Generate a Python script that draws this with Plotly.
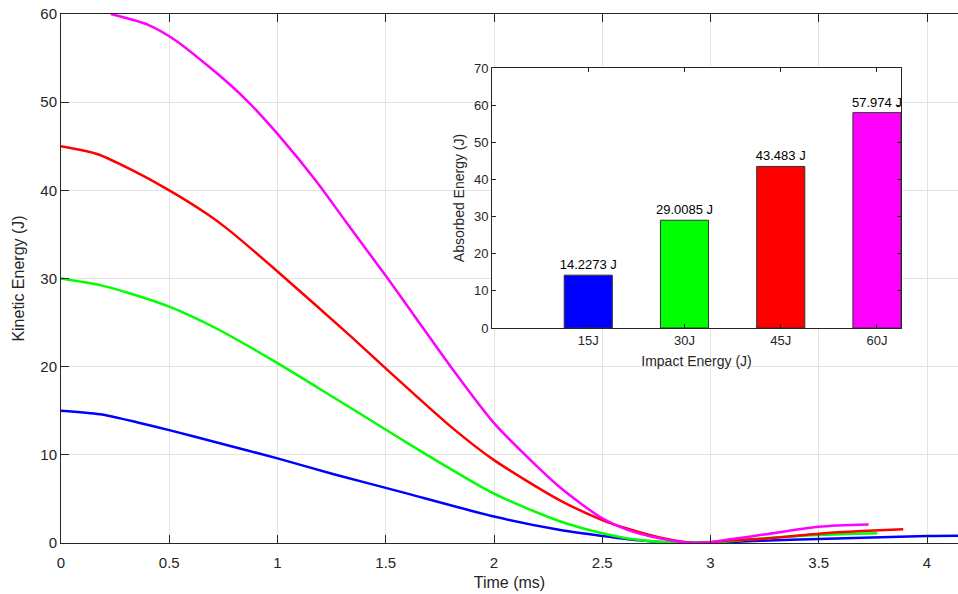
import plotly.graph_objects as go

# ---- main chart data: kinetic energy vs time ----
t_15 = [0, 0.18, 0.35, 0.5, 0.72, 1.0, 1.26, 1.57, 2.0, 2.3, 2.5, 2.61, 2.77, 2.93, 3.23, 3.5, 4.0, 4.15]
ke_15 = [15, 14.6, 13.7, 12.8, 11.4, 9.6, 7.8, 5.8, 3.0, 1.5, 0.8, 0.45, 0.12, 0.02, 0.25, 0.45, 0.8, 0.83]

t_30 = [0, 0.18, 0.32, 0.5, 0.72, 1.0, 1.26, 1.57, 1.69, 2.0, 2.3, 2.5, 2.61, 2.77, 2.93, 3.0, 3.23, 3.5, 3.77]
ke_30 = [30, 29.25, 28.3, 26.8, 24.3, 20.4, 16.5, 11.8, 10.0, 5.6, 2.5, 1.1, 0.55, 0.12, 0.02, 0.05, 0.5, 0.9, 1.1]

t_45 = [0, 0.17, 0.32, 0.5, 0.67, 0.77, 1.0, 1.34, 1.5, 1.81, 2.0, 2.3, 2.5, 2.61, 2.77, 2.93, 3.1, 3.23, 3.5, 3.7, 3.89]
ke_45 = [45, 44.1, 42.4, 40.0, 37.4, 35.6, 30.8, 23.4, 19.8, 13.0, 9.4, 4.9, 2.6, 1.67, 0.6, 0.0, 0.3, 0.45, 1.05, 1.35, 1.55]

t_60 = [0.23, 0.4, 0.53, 0.65, 0.78, 0.87, 1.0, 1.18, 1.32, 1.5, 1.64, 1.8, 2.0, 2.3, 2.5, 2.61, 2.77, 2.92, 3.0, 3.1, 3.23, 3.5, 3.73]
ke_60 = [60, 58.8, 57.0, 54.7, 52.0, 49.9, 46.4, 41.0, 36.3, 30.3, 25.5, 20.0, 13.6, 6.4, 2.8, 1.55, 0.5, 0.0, 0.1, 0.45, 0.9, 1.85, 2.1]

# ---- inset data: absorbed energy ----
impact_labels = ["15J", "30J", "45J", "60J"]
absorbed = [14.2273, 29.0085, 43.483, 57.974]

colors = ["#0000FF", "#00FF00", "#FF0000", "#FF00FF"]
series = [(t_15, ke_15), (t_30, ke_30), (t_45, ke_45), (t_60, ke_60)]

inset_xrange = [0, 4.25]
inset_yrange = [0, 70]

TXT = "#262626"
GRID = "#e3e3e3"
FONT = "Liberation Sans, Arial, sans-serif"

fig = go.Figure()
for (tx, ky), c in zip(series, colors):
    fig.add_trace(go.Scatter(x=tx, y=ky, mode="lines",
                             line=dict(color=c, width=2.5, shape="spline", smoothing=0.7),
                             showlegend=False, hoverinfo="skip", xaxis="x", yaxis="y"))

# white background for the inset axes (hides main grid behind it)
fig.add_trace(go.Bar(x=[sum(inset_xrange) / 2], y=[inset_yrange[1]],
                     width=inset_xrange[1] - inset_xrange[0],
                     marker=dict(color="white", line=dict(width=0)),
                     showlegend=False, hoverinfo="skip", xaxis="x2", yaxis="y2"))

pos = list(range(1, len(absorbed) + 1))
fig.add_trace(go.Bar(x=pos, y=absorbed, width=0.5,
                     marker=dict(color=colors, line=dict(color="#333333", width=1)),
                     text=[f"{v:g} J" for v in absorbed], textposition="outside",
                     constraintext="none",
                     textfont=dict(size=13, color="black", family=FONT),
                     cliponaxis=True, showlegend=False, hoverinfo="skip",
                     xaxis="x2", yaxis="y2"))

fig.update_layout(
    width=958, height=594,
    margin=dict(l=61, r=0, t=14, b=51, autoexpand=False),
    barmode="overlay",
    paper_bgcolor="white", plot_bgcolor="white",
    font=dict(family=FONT, color=TXT),
    xaxis=dict(domain=[0, 1], range=[0, 4.143], dtick=0.5, automargin=False,
               showgrid=True, gridcolor=GRID, zeroline=False,
               showline=True, linecolor=TXT, linewidth=1, mirror="ticks",
               ticks="inside", ticklen=8, tickcolor=TXT, ticklabelstandoff=6,
               tickfont=dict(size=15, color=TXT),
               title=dict(text="Time (ms)", font=dict(size=16, color=TXT), standoff=6)),
    yaxis=dict(domain=[0, 1], range=[0, 60], dtick=10, automargin=False,
               showgrid=True, gridcolor=GRID, zeroline=False,
               showline=True, linecolor=TXT, linewidth=1,
               ticks="inside", ticklen=8, tickcolor=TXT, ticklabeloverflow="allow",
               tickfont=dict(size=15, color=TXT),
               title=dict(text="Kinetic Energy (J)", font=dict(size=16, color=TXT), standoff=11)),
    xaxis2=dict(domain=[0.4805, 0.9365], anchor="y2", range=inset_xrange, automargin=False,
                tickvals=pos, ticktext=impact_labels,
                showgrid=False, zeroline=False,
                showline=True, linecolor=TXT, linewidth=1, mirror="ticks",
                ticks="inside", ticklen=4, tickcolor=TXT,
                tickfont=dict(size=13, color=TXT),
                title=dict(text="Impact Energy (J)", font=dict(size=14, color=TXT), standoff=9)),
    yaxis2=dict(domain=[0.4064, 0.898], anchor="x2", range=inset_yrange, dtick=10, automargin=False,
                showgrid=False, zeroline=False,
                showline=True, linecolor=TXT, linewidth=1, mirror="ticks",
                ticks="inside", ticklen=4, tickcolor=TXT, ticklabeloverflow="allow",
                tickfont=dict(size=13, color=TXT),
                title=dict(text="Absorbed Energy (J)", font=dict(size=14, color=TXT), standoff=6)),
)

fig.write_html("out.html", config={"displayModeBar": False},
               post_script="document.body.style.margin='0';document.body.style.overflow='hidden';")
